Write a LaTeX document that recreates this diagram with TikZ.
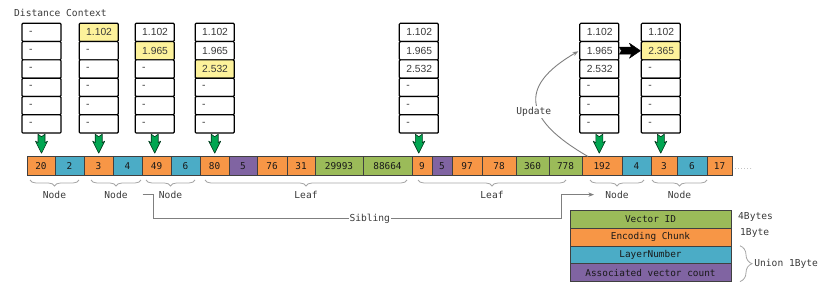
\documentclass[tikz,border=0pt]{standalone}
\usepackage{fontspec}
\setmonofont{DejaVu Sans Mono}
\newfontfamily\boxfont{Liberation Sans}
\usepackage{tikz}
\usetikzlibrary{arrows.meta,positioning,calc,decorations.pathreplacing}
\usepackage{xcolor}
\definecolor{cellorange}{HTML}{F79646}
\definecolor{cellblue}{HTML}{4BACC6}
\definecolor{cellpurple}{HTML}{8064A2}
\definecolor{cellgreen}{HTML}{9BBB59}
\definecolor{hilite}{HTML}{FDF29B}
\definecolor{arrowgreen}{HTML}{00A651}
\definecolor{linegray}{HTML}{7F7F7F}
\definecolor{bracegray}{HTML}{A6A6A6}
\definecolor{textdark}{HTML}{3A3A3A}
\tikzset{
  cell/.style={draw=black!75,line width=0.6pt,minimum height=19pt,inner sep=0pt,outer sep=0pt,
    text=black!90,font=\ttfamily\fontsize{9.4}{10}\selectfont},
  ocell/.style={cell,fill=cellorange},
  bcell/.style={cell,fill=cellblue},
  pcell/.style={cell,fill=cellpurple},
  gcell/.style={cell,fill=cellgreen},
  dcell/.style={draw=black,line width=1.2pt,rounded corners=1pt,text width=25pt,inner xsep=7pt,
    inner ysep=0pt,minimum height=18.3pt,align=left,font=\boxfont\fontsize{10.3}{11}\selectfont,text=textdark},
  lbl/.style={font=\ttfamily\fontsize{9.6}{10}\selectfont,text=textdark,inner sep=1pt},
  brc/.style={decorate,decoration={brace,mirror,amplitude=6pt},draw=bracegray,line width=0.8pt},
  ubrc/.style={decorate,decoration={brace,amplitude=12pt},draw=bracegray,line width=0.8pt},
  garrow/.style={draw=black!65!arrowgreen,fill=arrowgreen,line width=0.6pt,line join=round},
  barrow/.style={draw=black,fill=black,line width=0.5pt,line join=round},
  link/.style={-{Stealth[length=2mm]},draw=linegray,line width=0.9pt},
  lgnd/.style={draw=black!75,line width=0.6pt,minimum width=161pt,minimum height=17.9pt,inner sep=0pt,
    outer sep=0pt,text=black!90,font=\ttfamily\fontsize{9.4}{10}\selectfont}
}
\newcommand{\distcol}[3]{%
  \foreach \val/\fc [count=\i] in {#3}
    \node[dcell,fill=\fc] (#1-\i) at (#2,{-23.3-18.3*(\i-0.5)}) {\val};
}

\begin{document}
\begin{tikzpicture}[x=1pt,y=1pt,node distance=0pt]
        \useasboundingbox (0,0) rectangle (830,-286);
        \node[lbl,anchor=west] (title) at (13,-12.7) {Distance Context};
        \distcol{d1}{41.5}{-/white,-/white,-/white,-/white,-/white,-/white}
        \distcol{d2}{98.7}{1.102/hilite,-/white,-/white,-/white,-/white,-/white}
        \distcol{d3}{154.7}{1.102/white,1.965/hilite,-/white,-/white,-/white,-/white}
        \distcol{d4}{214.7}{1.102/white,1.965/white,2.532/hilite,-/white,-/white,-/white}
        \distcol{d5}{418.8}{1.102/white,1.965/white,2.532/white,-/white,-/white,-/white}
        \distcol{d6}{599.3}{1.102/white,1.965/white,2.532/white,-/white,-/white,-/white}
        \distcol{d7}{660.8}{1.102/white,2.365/hilite,-/white,-/white,-/white,-/white}
        \foreach \c in {d1,d2,d3,d4,d5,d6,d7}
          \draw[garrow,shift={(\c-6.south)}] (-3.5,-0.5) -- (0,-3) -- (3.5,-0.5) -- (3.5,-9) -- (6,-7.5)
            -- (0,-19.5) -- (-6,-7.5) -- (-3.5,-9) -- cycle;
        \draw[barrow,shift={(d6-2.east)}] (0,3.5) -- (12,3.5) -- (10,7.5) -- (21,0) -- (10,-7.5)
          -- (12,-3.5) -- (0,-3.5) -- (2,0) -- cycle;
        \node[ocell,minimum width=28pt] (c1) at (41,-166) {20};
        \node[bcell,minimum width=29pt,right=of c1] (c2) {2};
        \node[ocell,minimum width=29pt,right=of c2] (c3) {3};
        \node[bcell,minimum width=29pt,right=of c3] (c4) {4};
        \node[ocell,minimum width=29pt,right=of c4] (c5) {49};
        \node[bcell,minimum width=29pt,right=of c5] (c6) {6};
        \node[ocell,minimum width=29pt,right=of c6] (c7) {80};
        \node[pcell,minimum width=28pt,right=of c7] (c8) {5};
        \node[ocell,minimum width=30pt,right=of c8] (c9) {76};
        \node[ocell,minimum width=28pt,right=of c9] (c10) {31};
        \node[gcell,minimum width=48pt,right=of c10] (c11) {29993};
        \node[gcell,minimum width=49pt,right=of c11] (c12) {88664};
        \node[ocell,minimum width=20pt,right=of c12] (c13) {9};
        \node[pcell,minimum width=20pt,right=of c13] (c14) {5};
        \node[ocell,minimum width=30pt,right=of c14] (c15) {97};
        \node[ocell,minimum width=34pt,right=of c15] (c16) {78};
        \node[gcell,minimum width=33pt,right=of c16] (c17) {360};
        \node[gcell,minimum width=33pt,right=of c17] (c18) {778};
        \node[ocell,minimum width=40pt,right=of c18] (c19) {192};
        \node[bcell,minimum width=29pt,right=of c19] (c20) {4};
        \node[ocell,minimum width=26pt,right=of c20] (c21) {3};
        \node[bcell,minimum width=30pt,right=of c21] (c22) {6};
        \node[ocell,minimum width=25pt,right=of c22] (c23) {17};
        \node[lbl,anchor=base west,text=linegray,font=\ttfamily\fontsize{5}{6}\selectfont] (more) at ($(c23.base east)+(1,0)$) {......};
        \draw[brc] ([xshift=3pt,yshift=-4.5pt]c1.south west) -- ([xshift=-5pt,yshift=-4.5pt]c2.south east)
          node[lbl,midway,below=9.5pt] (n1) {Node};
        \draw[brc] ([xshift=7pt,yshift=-4.5pt]c3.south west) -- ([xshift=-1pt,yshift=-4.5pt]c4.south east)
          node[lbl,midway,below=9.5pt] (n2) {Node};
        \draw[brc] ([xshift=4pt,yshift=-4.5pt]c5.south west) -- ([xshift=-5pt,yshift=-4.5pt]c6.south east)
          node[lbl,midway,below=9.5pt] (n3) {Node};
        \draw[brc] ([xshift=5pt,yshift=-4.5pt]c7.south west) -- ([xshift=-5pt,yshift=-4.5pt]c12.south east)
          node[lbl,midway,below=9.5pt] (f1) {Leaf};
        \draw[brc] ([xshift=6pt,yshift=-4.5pt]c13.south west) -- ([xshift=-16pt,yshift=-4.5pt]c18.south east)
          node[lbl,midway,below=9.5pt] (f2) {Leaf};
        \draw[brc] ([xshift=8pt,yshift=-4.5pt]c19.south west) -- ([xshift=-7pt,yshift=-4.5pt]c20.south east)
          node[lbl,midway,below=9.5pt] (n4) {Node};
        \draw[brc] ([xshift=1pt,yshift=-4.5pt]c21.south west) -- ([yshift=-4.5pt]c22.south east)
          node[lbl,midway,below=9.5pt] (n5) {Node};
        \coordinate (sibstart) at ($(n3.west)+(-15,0)$);
        \draw[link,shorten >=10pt] (sibstart) -- ++(11,0) -- ++(0,-24)
          -- node[lbl,pos=0.53,fill=white] {Sibling} ++(408,0) |- (n4.west);
        \draw[link,shorten >=1pt] ([xshift=6pt]c19.north west) to[out=150,in=210,looseness=1.75]
          node[lbl,pos=0.42,xshift=-5pt,fill=white] {Update} (d6-2.west);
        \node[lgnd,fill=cellgreen,anchor=north west] (vid) at (570,-210) {Vector ID};
        \node[lgnd,fill=cellorange,below=of vid] (enc) {Encoding Chunk};
        \node[lgnd,fill=cellblue,below=of enc] (lay) {LayerNumber};
        \node[lgnd,fill=cellpurple,below=of lay] (assoc) {Associated vector count};
        \node[lbl,anchor=west] (sz1) at ([xshift=6pt,yshift=2pt]vid.east) {4Bytes};
        \node[lbl,anchor=west] (sz2) at ([xshift=8pt,yshift=4pt]enc.east) {1Byte};
        \draw[ubrc] ([xshift=9pt]lay.north east) -- ([xshift=9pt]assoc.south east)
          node[lbl,midway,right=13pt] (sz3) {Union 1Byte};
      \end{tikzpicture}
\end{document}
